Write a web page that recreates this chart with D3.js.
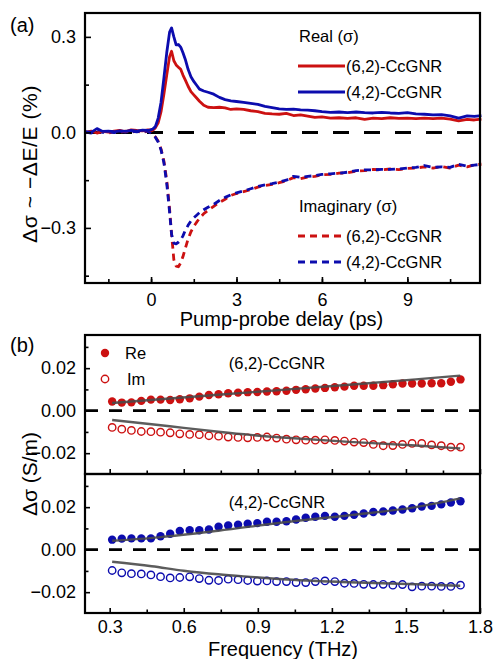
<!DOCTYPE html>
<meta charset="utf-8">
<title>CcGNR photoconductivity</title>
<script src="https://d3js.org/d3.v7.min.js"></script>
<style>
  body { margin: 0; background: #fff; }
  text { font-family: "Liberation Sans", Arial, sans-serif; fill: #000; }
</style>
<body>
<svg id="container" width="494" height="659"></svg>
</body>
<script>
// ---- panel (a): pump-probe delay traces ----
const delay = [-2.3, -2.1, -1.9, -1.7, -1.5, -1.3, -1.1, -0.9, -0.7, -0.5, -0.3, -0.1,
  0.05, 0.15, 0.25, 0.35, 0.45, 0.55, 0.65, 0.72, 0.8, 0.88, 0.96, 1.04, 1.12, 1.2,
  1.3, 1.4, 1.5, 1.6, 1.7, 1.85, 2.0, 2.2, 2.4, 2.6, 2.8, 3.0, 3.25, 3.5, 3.75, 4.0,
  4.25, 4.5, 4.75, 5.0, 5.25, 5.5, 5.75, 6.0, 6.3, 6.6, 6.9, 7.2, 7.5, 7.8, 8.1, 8.4,
  8.7, 9.0, 9.3, 9.6, 9.9, 10.2, 10.5, 10.8, 11.1, 11.35, 11.6]

const real42 = [0.002, 0.000, 0.012, 0.003, 0.004, 0.002, 0.005, 0.003, 0.006, 0.004, 0.007, 0.006,
  0.010, 0.018, 0.045, 0.095, 0.170, 0.250, 0.315, 0.328, 0.300, 0.275, 0.276, 0.268, 0.250, 0.230,
  0.198, 0.175, 0.160, 0.148, 0.136, 0.130, 0.126, 0.120, 0.110, 0.103, 0.099, 0.097, 0.094, 0.091, 0.088, 0.082,
  0.078, 0.074, 0.072, 0.073, 0.071, 0.070, 0.068, 0.065, 0.063, 0.064, 0.062, 0.064, 0.062, 0.061, 0.063, 0.061,
  0.060, 0.062, 0.058, 0.057, 0.055, 0.056, 0.052, 0.045, 0.052, 0.050, 0.053]

const real62 = [0.000, 0.004, -0.002, 0.003, 0.001, 0.004, 0.006, 0.002, 0.008, 0.006, 0.005, 0.008,
  0.006, 0.014, 0.030, 0.065, 0.120, 0.180, 0.238, 0.255, 0.225, 0.212, 0.205, 0.198, 0.180, 0.165,
  0.145, 0.128, 0.118, 0.108, 0.098, 0.085, 0.079, 0.078, 0.079, 0.077, 0.072, 0.074, 0.072, 0.068, 0.065, 0.060,
  0.058, 0.057, 0.060, 0.053, 0.055, 0.051, 0.047, 0.049, 0.045, 0.046, 0.044, 0.046, 0.041, 0.045, 0.043, 0.046,
  0.044, 0.045, 0.043, 0.045, 0.043, 0.045, 0.042, 0.036, 0.041, 0.039, 0.042]

const imag42 = [0.001, -0.002, 0.004, 0.000, 0.002, -0.001, 0.003, 0.001, 0.004, 0.002, 0.005, 0.003,
  -0.005, -0.015, -0.030, -0.055, -0.095, -0.160, -0.250, -0.320, -0.348, -0.350, -0.345, -0.338, -0.325, -0.308,
  -0.292, -0.278, -0.268, -0.260, -0.252, -0.243, -0.235, -0.226, -0.214, -0.204, -0.196, -0.190, -0.184, -0.177, -0.170, -0.165,
  -0.161, -0.156, -0.150, -0.138, -0.141, -0.138, -0.136, -0.132, -0.130, -0.128, -0.125, -0.120, -0.118, -0.118, -0.116, -0.116,
  -0.115, -0.112, -0.110, -0.104, -0.110, -0.108, -0.110, -0.100, -0.106, -0.103, -0.100]

const imag62 = [-0.001, 0.002, 0.000, 0.003, -0.002, 0.002, 0.000, 0.004, 0.001, 0.003, 0.000, 0.004,
  -0.004, -0.014, -0.028, -0.052, -0.090, -0.150, -0.240, -0.320, -0.400, -0.420, -0.422, -0.410, -0.390, -0.365,
  -0.335, -0.312, -0.295, -0.282, -0.270, -0.255, -0.245, -0.232, -0.220, -0.210, -0.198, -0.192, -0.186, -0.180, -0.172, -0.167,
  -0.163, -0.158, -0.152, -0.142, -0.145, -0.140, -0.138, -0.133, -0.132, -0.128, -0.127, -0.122, -0.120, -0.116, -0.118, -0.115,
  -0.117, -0.113, -0.112, -0.108, -0.112, -0.107, -0.112, -0.103, -0.108, -0.102, -0.100]

const delayTicks = [0, 3, 6, 9]
const signalTicks = [-0.3, 0.0, 0.3]

// ---- panel (b): THz conductivity spectra ----
const freq = [0.310, 0.349, 0.388, 0.428, 0.467, 0.506, 0.545, 0.584, 0.624, 0.663, 0.702, 0.741,
  0.780, 0.820, 0.859, 0.898, 0.937, 0.976, 1.016, 1.055, 1.094, 1.133, 1.172, 1.212, 1.251,
  1.290, 1.329, 1.368, 1.408, 1.447, 1.486, 1.525, 1.564, 1.604, 1.643, 1.682, 1.721]

const re62 = [0.0043, 0.0038, 0.0039, 0.0046, 0.0052, 0.0052, 0.0050, 0.0054, 0.0058, 0.0066, 0.0074, 0.0077,
  0.0082, 0.0085, 0.0087, 0.0088, 0.0090, 0.0091, 0.0094, 0.0098, 0.0101, 0.0104, 0.0107, 0.0110, 0.0113,
  0.0117, 0.0117, 0.0117, 0.0120, 0.0124, 0.0128, 0.0128, 0.0128, 0.0129, 0.0129, 0.0136, 0.0147]
const im62 = [-0.0079, -0.0087, -0.0093, -0.0098, -0.0099, -0.0101, -0.0104, -0.0109, -0.0112, -0.0113, -0.0118, -0.0120,
  -0.0124, -0.0126, -0.0128, -0.0126, -0.0124, -0.0129, -0.0134, -0.0137, -0.0139, -0.0139, -0.0137, -0.0140, -0.0143,
  -0.0148, -0.0150, -0.0159, -0.0165, -0.0164, -0.0159, -0.0154, -0.0154, -0.0161, -0.0165, -0.0172, -0.0172]
const re42 = [0.0047, 0.0052, 0.0053, 0.0053, 0.0053, 0.0063, 0.0075, 0.0088, 0.0091, 0.0091, 0.0095, 0.0108,
  0.0114, 0.0117, 0.0122, 0.0125, 0.0131, 0.0131, 0.0134, 0.0142, 0.0150, 0.0155, 0.0159, 0.0155, 0.0159,
  0.0164, 0.0170, 0.0177, 0.0180, 0.0184, 0.0189, 0.0195, 0.0203, 0.0206, 0.0213, 0.0222, 0.0228]
const im42 = [-0.0098, -0.0109, -0.0113, -0.0114, -0.0119, -0.0127, -0.0133, -0.0131, -0.0128, -0.0136, -0.0144, -0.0145,
  -0.0139, -0.0141, -0.0145, -0.0148, -0.0147, -0.0150, -0.0150, -0.0155, -0.0155, -0.0150, -0.0147, -0.0150, -0.0158,
  -0.0159, -0.0163, -0.0164, -0.0163, -0.0167, -0.0164, -0.0175, -0.0172, -0.0172, -0.0173, -0.0173, -0.0167]

// model fits (freq, value)
const fitRe62 = [[0.31, 0.0036], [0.74, 0.0075], [1.0, 0.0098], [1.27, 0.0122], [1.54, 0.0147], [1.72, 0.0165]]
const fitIm62 = [[0.31, -0.0044], [0.47, -0.0064], [0.6, -0.0081], [0.74, -0.0099], [0.87, -0.0114],
  [1.0, -0.0126], [1.27, -0.0147], [1.54, -0.0164], [1.72, -0.0178]]
const fitRe42 = [[0.31, 0.0042], [0.5, 0.0058], [0.74, 0.0089], [1.0, 0.0128], [1.27, 0.0162], [1.54, 0.0200], [1.72, 0.0241]]
const fitIm42 = [[0.31, -0.0057], [0.47, -0.0078], [0.6, -0.0099], [0.74, -0.0116], [0.87, -0.0128],
  [1.0, -0.0139], [1.27, -0.0153], [1.54, -0.0163], [1.72, -0.0170]]

const freqTicks = [0.3, 0.6, 0.9, 1.2, 1.5, 1.8]
const condTicks = [-0.02, 0.00, 0.02]

const red = "#cc1111"
const blue = "#0c0cae"
const fitGrey = "#4a4a4a"

let svg = d3.select("#container")

// ================= panel (a) =================
let a = { left: 85, right: 480, top: 13, bottom: 283 }
let xA = d3.scaleLinear().domain([-2.32, 11.55]).range([a.left, a.right])
let yA = d3.scaleLinear().domain([-0.473, 0.375]).range([a.bottom, a.top])

let gA = svg.append("g")

// zero line
gA.append("line")
  .attr("x1", a.left).attr("x2", a.right)
  .attr("y1", yA(0)).attr("y2", yA(0))
  .attr("stroke", "#000").attr("stroke-width", 3)
  .attr("stroke-dasharray", "16,15")

let lineA = (vals) => d3.line()
  .x((d, i) => xA(delay[i]))
  .y(d => yA(d))(vals)

let tracesA = [
  { vals: imag62, color: red, dash: "7,5" },
  { vals: imag42, color: blue, dash: "7,5" },
  { vals: real62, color: red, dash: null },
  { vals: real42, color: blue, dash: null }
]
tracesA.forEach(s => {
  gA.append("path")
    .attr("d", lineA(s.vals))
    .attr("fill", "none")
    .attr("stroke", s.color)
    .attr("stroke-width", 2.8)
    .attr("stroke-linejoin", "round")
    .attr("stroke-dasharray", s.dash)
})

// ticks (inward)
gA.append("g")
  .attr("transform", `translate(0,${a.bottom})`)
  .call(d3.axisBottom(xA).tickValues(d3.range(-1.5, 11.6, 1.5)).tickSize(-4).tickFormat(""))
gA.append("g")
  .attr("transform", `translate(0,${a.bottom})`)
  .call(d3.axisBottom(xA).tickValues(delayTicks).tickSize(-6).tickPadding(10).tickFormat(d3.format("d")))
gA.append("g")
  .attr("transform", `translate(${a.left},0)`)
  .call(d3.axisLeft(yA).tickValues([-0.45, -0.15, 0.15]).tickSize(-4).tickFormat(""))
gA.append("g")
  .attr("transform", `translate(${a.left},0)`)
  .call(d3.axisLeft(yA).tickValues(signalTicks).tickSize(-6).tickPadding(9).tickFormat(d3.format(".1f")))

// frame
gA.append("rect")
  .attr("x", a.left).attr("y", a.top)
  .attr("width", a.right - a.left).attr("height", a.bottom - a.top)
  .attr("fill", "none").attr("stroke", "#000").attr("stroke-width", 2.2)

// labels
gA.append("text").attr("x", 10).attr("y", 32).style("font-size", "20px").text("(a)")
gA.append("text")
  .attr("x", (a.left + a.right) / 2 - 1).attr("y", 326)
  .attr("text-anchor", "middle").style("font-size", "20px")
  .text("Pump-probe delay (ps)")
gA.append("text")
  .attr("transform", `translate(37,${(a.top + a.bottom) / 2 + 16}) rotate(-90)`)
  .attr("text-anchor", "middle").style("font-size", "21px")
  .style("letter-spacing", "0.6px")
  .text("Δσ ~ −ΔE/E (%)")

// legends
function legendA(title, y0, dash) {
  gA.append("text").attr("x", 299).attr("y", y0).style("font-size", "16.5px").text(title)
  ;[["(6,2)-CcGNR", red], ["(4,2)-CcGNR", blue]].forEach((d, i) => {
    let yy = y0 + 24 + i * 26
    gA.append("line")
      .attr("x1", 298).attr("x2", 345).attr("y1", yy).attr("y2", yy)
      .attr("stroke", d[1]).attr("stroke-width", 2.8).attr("stroke-dasharray", dash)
    gA.append("text").attr("x", 346).attr("y", yy + 6).style("font-size", "16.5px").text(d[0])
  })
}
legendA("Real (σ)", 42, null)
legendA("Imaginary (σ)", 212, "7,5")

svg.selectAll(".domain").remove()
svg.selectAll(".tick text").style("font-size", "18px").attr("font-family", null)
svg.selectAll(".tick line").attr("stroke", "#000").attr("stroke-width", 1.6)

// ================= panel (b) =================
let b = { left: 85, right: 480 }
let xB = d3.scaleLinear().domain([0.2, 1.8]).range([b.left, b.right])

let subpanels = [
  { top: 335, bottom: 474, re: re62, im: im62, fitRe: fitRe62, fitIm: fitIm62, color: red, name: "(6,2)-CcGNR" },
  { top: 474, bottom: 613, re: re42, im: im42, fitRe: fitRe42, fitIm: fitIm42, color: blue, name: "(4,2)-CcGNR" }
]

subpanels.forEach((p, k) => {
  let g = svg.append("g")
  let y = d3.scaleLinear().domain([-0.0298, 0.0356]).range([p.bottom, p.top])

  g.append("line")
    .attr("x1", b.left).attr("x2", b.right)
    .attr("y1", y(0)).attr("y2", y(0))
    .attr("stroke", "#000").attr("stroke-width", 2.6)
    .attr("stroke-dasharray", "13,11")

  g.selectAll("circle.re").data(p.re).enter().append("circle")
    .attr("cx", (d, i) => xB(freq[i])).attr("cy", d => y(d))
    .attr("r", 4.2).attr("fill", p.color)
  g.selectAll("circle.im").data(p.im).enter().append("circle")
    .attr("cx", (d, i) => xB(freq[i])).attr("cy", d => y(d))
    .attr("r", 3.7).attr("fill", "#fff").attr("stroke", p.color).attr("stroke-width", 1.4)

  let fitLine = d3.line().curve(d3.curveMonotoneX).x(d => xB(d[0])).y(d => y(d[1]))
  ;[p.fitRe, p.fitIm].forEach(f => {
    g.append("path").attr("d", fitLine(f))
      .attr("fill", "none").attr("stroke", fitGrey).attr("stroke-width", 2.4)
      .attr("opacity", 0.9)
  })

  let gx = g.append("g").attr("transform", `translate(0,${p.bottom})`)
  gx.call(d3.axisBottom(xB).tickValues(d3.range(0.45, 1.7, 0.3)).tickSize(-3.5).tickFormat(""))
  let gx2 = g.append("g").attr("transform", `translate(0,${p.bottom})`)
  gx2.call(d3.axisBottom(xB).tickValues(freqTicks).tickSize(-5).tickPadding(7)
    .tickFormat(k === 1 ? d3.format(".1f") : ""))

  g.append("g").attr("transform", `translate(${b.left},0)`)
    .call(d3.axisLeft(y).tickValues([-0.01, 0.01, 0.03]).tickSize(-3.5).tickFormat(""))
  g.append("g").attr("transform", `translate(${b.left},0)`)
    .call(d3.axisLeft(y).tickValues(condTicks).tickSize(-5).tickPadding(9).tickFormat(d3.format(".2f")))

  g.append("rect")
    .attr("x", b.left).attr("y", p.top)
    .attr("width", b.right - b.left).attr("height", p.bottom - p.top)
    .attr("fill", "none").attr("stroke", "#000").attr("stroke-width", 2.2)

  g.append("text")
    .attr("x", 277).attr("y", p.top + 34)
    .attr("text-anchor", "middle").style("font-size", "16.5px")
    .text(p.name)
})

svg.selectAll(".domain").remove()
svg.selectAll(".tick text").style("font-size", "18px").attr("font-family", null)
svg.selectAll(".tick line").attr("stroke", "#000").attr("stroke-width", 1.6)

// legend Re / Im
svg.append("circle").attr("cx", 105).attr("cy", 353).attr("r", 4.2).attr("fill", red)
svg.append("circle").attr("cx", 105).attr("cy", 379).attr("r", 3.7)
  .attr("fill", "#fff").attr("stroke", red).attr("stroke-width", 1.4)
svg.append("text").attr("x", 125).attr("y", 359).style("font-size", "16.5px").text("Re")
svg.append("text").attr("x", 127).attr("y", 385).style("font-size", "16.5px").text("Im")

svg.append("text").attr("x", 10).attr("y", 352).style("font-size", "20px").text("(b)")
svg.append("text")
  .attr("x", 283).attr("y", 656)
  .attr("text-anchor", "middle").style("font-size", "20px")
  .text("Frequency (THz)")
svg.append("text")
  .attr("transform", "translate(37,474) rotate(-90)")
  .attr("text-anchor", "middle").style("font-size", "21px")
  .text("Δσ (S/m)")
</script>
